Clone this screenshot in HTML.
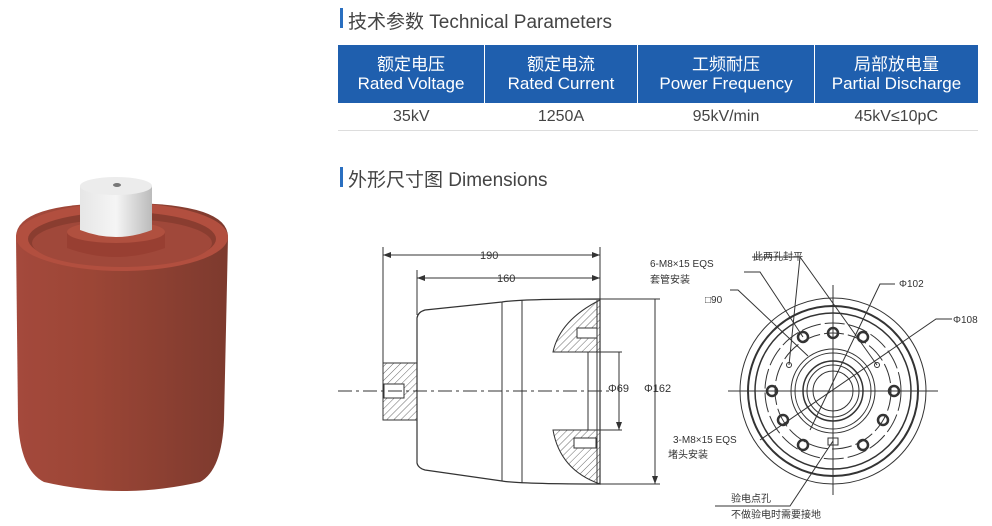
<!DOCTYPE html>
<html><head><meta charset="utf-8"><style>
body{margin:0;width:992px;height:526px;background:#fff;overflow:hidden;position:relative;font-family:"Liberation Sans","Noto Sans CJK SC",sans-serif;}
.t{position:absolute;font-size:19px;color:#444;}
.bar{position:absolute;width:3px;height:20px;background:#2a6fc0;}
table{position:absolute;left:338px;top:45px;width:640px;border-collapse:collapse;}
th{background:#1f5fae;color:#fff;font-weight:normal;font-size:17px;line-height:19px;height:58px;border-left:1px solid #fff;padding:0;}
th:first-child{border-left:none}
td{text-align:center;font-size:16px;color:#444;height:27px;border-bottom:1px solid #ddd;padding:0}
</style></head><body>
<div class="bar" style="left:340px;top:8px"></div>
<div class="t" style="left:348px;top:7px">技术参数 Technical Parameters</div>
<table>
<tr><th style="width:146px">额定电压<br>Rated Voltage</th><th style="width:152px">额定电流<br>Rated Current</th><th style="width:176px">工频耐压<br>Power Frequency</th><th>局部放电量<br>Partial Discharge</th></tr>
<tr><td>35kV</td><td>1250A</td><td>95kV/min</td><td>45kV≤10pC</td></tr>
</table>
<div class="bar" style="left:340px;top:167px"></div>
<div class="t" style="left:348px;top:165px">外形尺寸图 Dimensions</div>

<svg width="992" height="526" style="position:absolute;left:0;top:0" font-family="Liberation Sans, Noto Sans CJK SC, sans-serif">
<defs>
<linearGradient id="bd" x1="0" x2="1"><stop offset="0" stop-color="#a4493c"/><stop offset=".35" stop-color="#9c4636"/><stop offset="1" stop-color="#7d3a2e"/></linearGradient>
<linearGradient id="al" x1="0" x2="1"><stop offset="0" stop-color="#e6e6e6"/><stop offset=".5" stop-color="#f5f5f5"/><stop offset="1" stop-color="#bbb"/></linearGradient>
<pattern id="h" width="5" height="5" patternUnits="userSpaceOnUse" patternTransform="rotate(45)"><line x1="0" y1="0" x2="0" y2="5" stroke="#444" stroke-width="0.8"/></pattern>
<marker id="a" markerWidth="8" markerHeight="6" refX="8" refY="3" orient="auto"><path d="M0,0L8,3L0,6z" fill="#333"/></marker>
</defs>
<!-- product -->
<path d="M16,237 Q16,203 122,203 Q228,203 228,237 L224,420 Q222,470 200,482 Q122,500 44,482 Q20,470 18,420 Z" fill="url(#bd)"/>
<ellipse cx="122" cy="237" rx="106" ry="34" fill="#b24f3f"/>
<ellipse cx="122" cy="239" rx="94" ry="27" fill="#8a3d30"/>
<ellipse cx="122" cy="243" rx="90" ry="24" fill="#a0483a"/>
<path d="M67,248 L67,232 Q116,214 165,232 L165,248 Q116,266 67,248Z" fill="#983f32"/>
<ellipse cx="116" cy="232" rx="49" ry="11" fill="#b0503f"/>
<path d="M80,186 L80,230 Q116,244 152,230 L152,186Z" fill="url(#al)"/>
<ellipse cx="116" cy="186" rx="36" ry="9" fill="#ececec"/>
<ellipse cx="117" cy="185" rx="4" ry="2" fill="#777"/>
<!-- side view -->
<g stroke="#333" fill="none" stroke-width="1">
<line x1="383" y1="247" x2="383" y2="363"/><line x1="417" y1="270" x2="417" y2="315"/><line x1="600" y1="247" x2="600" y2="300"/>
<line x1="383" y1="255" x2="600" y2="255" marker-end="url(#a)"/><line x1="600" y1="255" x2="383" y2="255" marker-end="url(#a)"/>
<line x1="417" y1="278" x2="600" y2="278" marker-end="url(#a)"/><line x1="600" y1="278" x2="417" y2="278" marker-end="url(#a)"/>
<path d="M417,318 Q418,312 425,310 L502,302 Q520,299 600,299 L600,484 Q520,484 502,481 L425,470 Q418,468 417,463 Z" stroke-width="1.2"/>
<line x1="502" y1="302" x2="502" y2="481"/><line x1="522" y1="300" x2="522" y2="483"/>
<rect x="383" y="363" width="34" height="57" fill="url(#h)"/>
<rect x="384" y="384" width="20" height="14" fill="#fff"/>
<path d="M600,300 Q560,320 553,352 L600,352Z" fill="url(#h)"/>
<path d="M600,484 Q560,470 553,430 L600,430Z" fill="url(#h)"/>
<rect x="577" y="328" width="20" height="10" fill="#fff"/><rect x="574" y="438" width="22" height="10" fill="#fff"/>
<line x1="588" y1="352" x2="588" y2="430"/><line x1="597" y1="300" x2="597" y2="484"/>
<line x1="600" y1="299" x2="660" y2="299"/><line x1="600" y1="484" x2="660" y2="484"/>
<line x1="655" y1="299" x2="655" y2="484" marker-end="url(#a)"/>
<line x1="600" y1="352" x2="622" y2="352"/><line x1="600" y1="430" x2="622" y2="430"/>
<line x1="619" y1="352" x2="619" y2="430" marker-end="url(#a)"/>
<line x1="338" y1="391" x2="612" y2="391" stroke-dasharray="14,4,3,4"/>
<!-- front view -->
<line x1="728" y1="391" x2="938" y2="391"/><line x1="833" y1="285" x2="833" y2="495"/>
<circle cx="833" cy="391" r="93"/><circle cx="833" cy="391" r="85" stroke-width="2"/><circle cx="833" cy="391" r="78" stroke-width="1.5"/>
<circle cx="833" cy="391" r="68" stroke-dasharray="20,4"/><circle cx="833" cy="391" r="58" stroke-dasharray="20,4"/>
<circle cx="833" cy="391" r="42"/><circle cx="833" cy="391" r="38"/><circle cx="833" cy="391" r="30" stroke-width="1.5"/><circle cx="833" cy="391" r="26"/><circle cx="833" cy="391" r="20"/>
<g stroke-width="2.5"><circle cx="803" cy="337" r="5"/><circle cx="833" cy="333" r="5"/><circle cx="863" cy="337" r="5"/><circle cx="772" cy="391" r="5"/><circle cx="894" cy="391" r="5"/><circle cx="783" cy="420" r="5"/><circle cx="883" cy="420" r="5"/><circle cx="803" cy="445" r="5"/><circle cx="863" cy="445" r="5"/></g>
<circle cx="789" cy="365" r="2.5"/><circle cx="877" cy="365" r="2.5"/><rect x="828" y="438" width="10" height="7"/>
<path d="M744,272 L760,272 L803,337"/><path d="M730,290 L738,290 L808,356"/>
<path d="M752,257 L800,257 L789,365 M800,257 L877,365"/>
<path d="M895,284 L880,284 L810,430"/><path d="M952,319 L936,319 L760,440"/>
<path d="M715,506 L790,506 L833,441"/>
</g>
<g font-size="10" fill="#333">
<text x="480" y="259" font-size="11">190</text><text x="497" y="282" font-size="11">160</text>
<text x="608" y="392" font-size="11">Φ69</text><text x="644" y="392" font-size="11">Φ162</text>
<text x="650" y="267">6-M8×15 EQS</text><text x="650" y="283">套管安装</text>
<text x="753" y="260">此两孔封平</text><text x="705" y="303">□90</text>
<text x="899" y="287">Φ102</text><text x="953" y="323">Φ108</text>
<text x="673" y="443">3-M8×15 EQS</text><text x="668" y="458">堵头安装</text>
<text x="731" y="502">验电点孔</text><text x="731" y="518">不做验电时需要接地</text>
</g>
</svg>
</body></html>
